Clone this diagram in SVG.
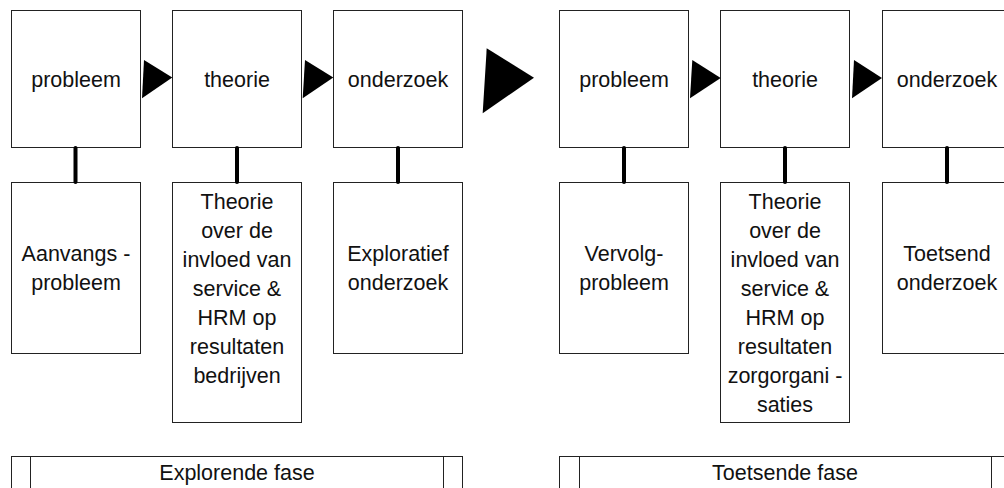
<svg xmlns="http://www.w3.org/2000/svg" width="1004" height="488" viewBox="0 0 1004 488">
  <style>
    .box { fill: #ffffff; stroke: #222222; stroke-width: 1; }
    .lbl { font-family: "Liberation Sans", Arial, sans-serif; font-size: 21.5px; fill: #111111; text-anchor: middle; }
    .link { stroke: #000000; stroke-width: 4; stroke-linecap: round; fill: none; }
    .arrow { fill: #000000; stroke: none; }
  </style>
  <rect width="1004" height="488" fill="#ffffff"/>

  <!-- explorende fase: top row -->
  <g id="probleem-1"><rect class="box" x="11.5" y="10.5" width="129" height="137"/><text class="lbl" x="76" y="87">probleem</text></g>
  <g id="theorie-1"><rect class="box" x="172.5" y="10.5" width="129" height="137"/><text class="lbl" x="237" y="87">theorie</text></g>
  <g id="onderzoek-1"><rect class="box" x="333.5" y="10.5" width="129" height="137"/><text class="lbl" x="398" y="87">onderzoek</text></g>

  <!-- toetsende fase: top row -->
  <g id="probleem-2"><rect class="box" x="559.5" y="10.5" width="129" height="137"/><text class="lbl" x="624" y="87">probleem</text></g>
  <g id="theorie-2"><rect class="box" x="720.5" y="10.5" width="129" height="137"/><text class="lbl" x="785" y="87">theorie</text></g>
  <g id="onderzoek-2"><rect class="box" x="882.5" y="10.5" width="129" height="137"/><text class="lbl" x="947" y="87">onderzoek</text></g>

  <!-- explorende fase: detail row -->
  <g id="aanvangsprobleem"><rect class="box" x="11.5" y="182.5" width="129" height="171"/>
    <text class="lbl" x="76" y="261">Aanvangs -</text><text class="lbl" x="76" y="290">probleem</text></g>
  <g id="theorie-bedrijven"><rect class="box" x="172.5" y="182.5" width="129" height="240"/>
    <text class="lbl" x="237" y="209">Theorie</text><text class="lbl" x="237" y="238">over de</text>
    <text class="lbl" x="237" y="267">invloed van</text><text class="lbl" x="237" y="296">service &amp;</text>
    <text class="lbl" x="237" y="325">HRM op</text><text class="lbl" x="237" y="354">resultaten</text>
    <text class="lbl" x="237" y="383">bedrijven</text></g>
  <g id="exploratief-onderzoek"><rect class="box" x="333.5" y="182.5" width="129" height="171"/>
    <text class="lbl" x="398" y="261">Exploratief</text><text class="lbl" x="398" y="290">onderzoek</text></g>

  <!-- toetsende fase: detail row -->
  <g id="vervolgprobleem"><rect class="box" x="559.5" y="182.5" width="129" height="171"/>
    <text class="lbl" x="624" y="261">Vervolg-</text><text class="lbl" x="624" y="290">probleem</text></g>
  <g id="theorie-zorgorganisaties"><rect class="box" x="720.5" y="182.5" width="129" height="240"/>
    <text class="lbl" x="785" y="209">Theorie</text><text class="lbl" x="785" y="238">over de</text>
    <text class="lbl" x="785" y="267">invloed van</text><text class="lbl" x="785" y="296">service &amp;</text>
    <text class="lbl" x="785" y="325">HRM op</text><text class="lbl" x="785" y="354">resultaten</text>
    <text class="lbl" x="785" y="383">zorgorgani -</text><text class="lbl" x="785" y="412">saties</text></g>
  <g id="toetsend-onderzoek"><rect class="box" x="882.5" y="182.5" width="129" height="171"/>
    <text class="lbl" x="947" y="261">Toetsend</text><text class="lbl" x="947" y="290">onderzoek</text></g>

  <!-- phase bars -->
  <g id="explorende-fase"><rect class="box" x="11.5" y="456.5" width="451" height="40"/>
    <line class="box" x1="30.5" y1="456.5" x2="30.5" y2="496"/><line class="box" x1="443.5" y1="456.5" x2="443.5" y2="496"/>
    <text class="lbl" x="237" y="480">Explorende fase</text></g>
  <g id="toetsende-fase"><rect class="box" x="559.5" y="456.5" width="452" height="40"/>
    <line class="box" x1="579.5" y1="456.5" x2="579.5" y2="496"/><line class="box" x1="991.5" y1="456.5" x2="991.5" y2="496"/>
    <text class="lbl" x="785" y="480">Toetsende fase</text></g>

  <!-- connectors -->
  <g id="connectors">
    <line class="link" x1="75.5" y1="148" x2="75.5" y2="182"/>
    <line class="link" x1="237" y1="148" x2="237" y2="182"/>
    <line class="link" x1="398" y1="148" x2="398" y2="182"/>
    <line class="link" x1="624" y1="148" x2="624" y2="182"/>
    <line class="link" x1="785" y1="148" x2="785" y2="182"/>
    <line class="link" x1="947" y1="148" x2="947" y2="182"/>
    <polygon class="arrow" points="144,60 142,98.3 172.3,77.5"/>
    <polygon class="arrow" points="305,60 302.7,98.3 333.3,77.5"/>
    <polygon class="arrow" points="486.7,48.3 482.7,113.3 534,77.7"/>
    <polygon class="arrow" points="692.3,60 690,98.3 720.7,78"/>
    <polygon class="arrow" points="854,60 852,98.3 882,78"/>
  </g>
</svg>
